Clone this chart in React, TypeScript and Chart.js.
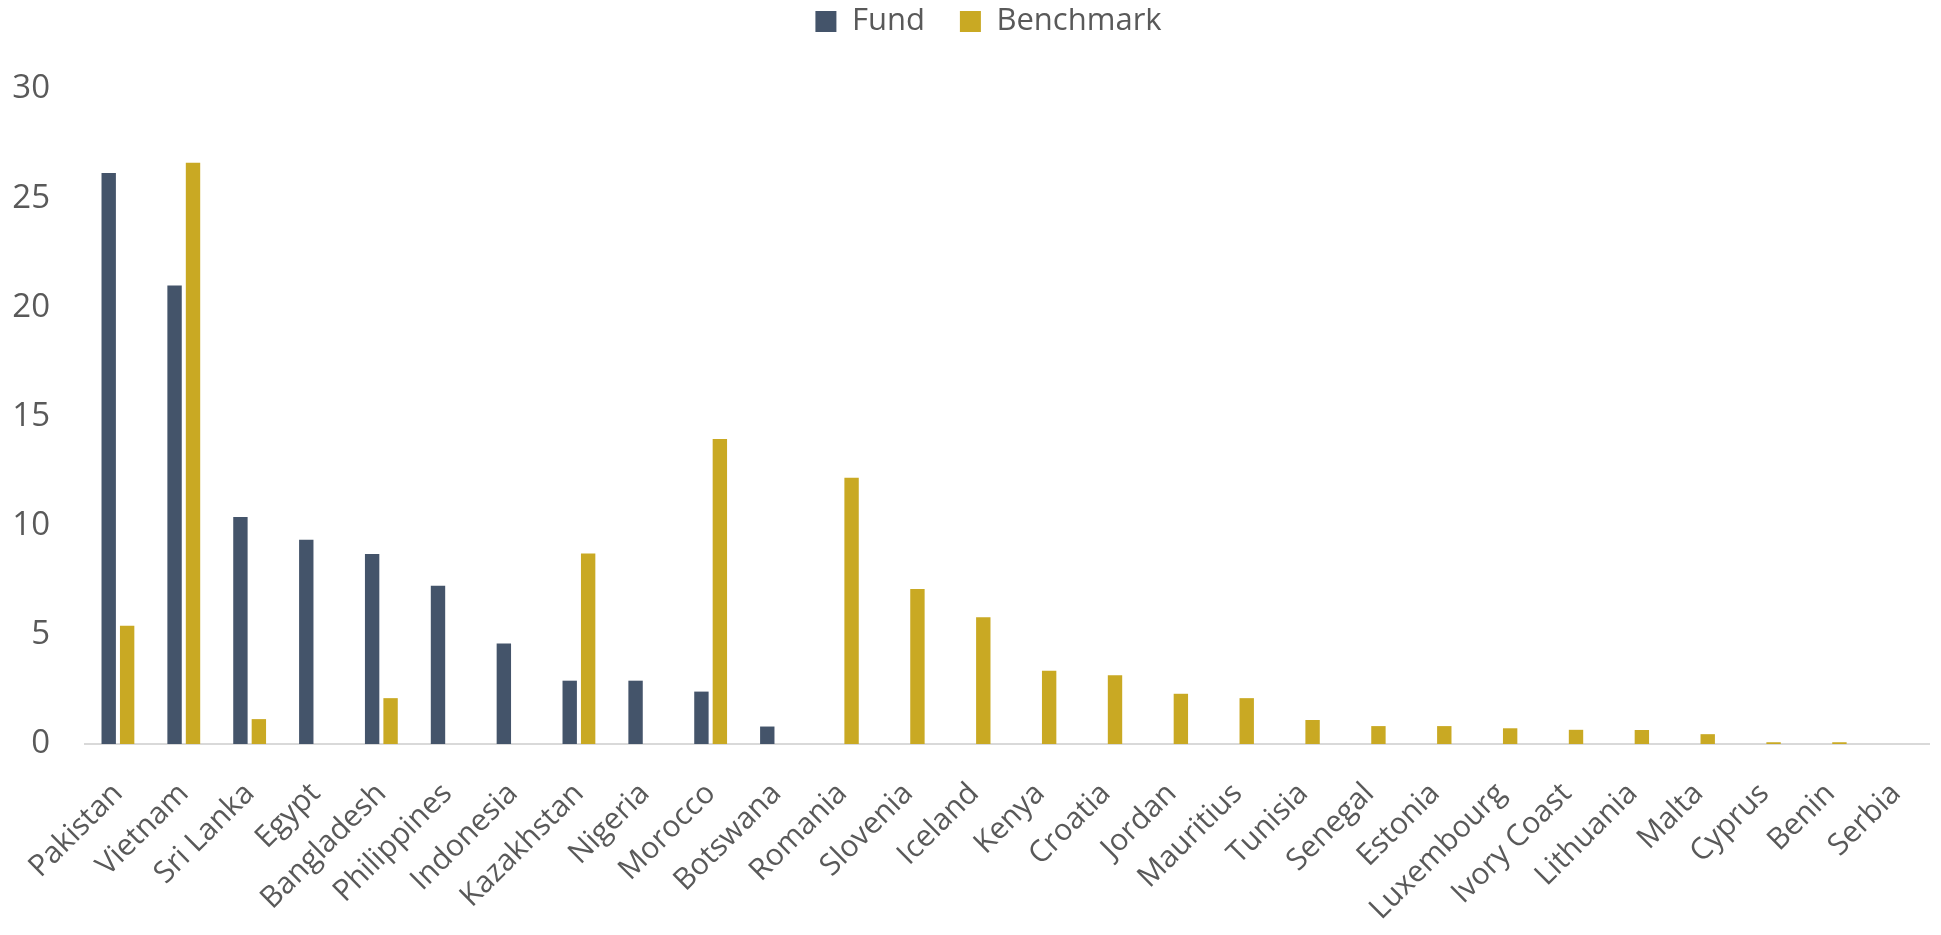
import React, { useEffect, useRef } from "react";
import { Chart, registerables } from "chart.js";

Chart.register(...registerables);

const categories = [
  "Pakistan", "Vietnam", "Sri Lanka", "Egypt", "Bangladesh", "Philippines", "Indonesia",
  "Kazakhstan", "Nigeria", "Morocco", "Botswana", "Romania", "Slovenia", "Iceland", "Kenya",
  "Croatia", "Jordan", "Mauritius", "Tunisia", "Senegal", "Estonia", "Luxembourg",
  "Ivory Coast", "Lithuania", "Malta", "Cyprus", "Benin", "Serbia",
];

const fundValues = [
  26.15, 21.0, 10.4, 9.35, 8.7, 7.25, 4.6, 2.9, 2.9, 2.4, 0.8,
  null, null, null, null, null, null, null, null, null, null, null, null, null, null, null, null, null,
];

const benchmarkValues = [
  5.42, 26.62, 1.14, null, 2.1, null, null, 8.73, null, 13.97, null,
  12.2, 7.1, 5.8, 3.35, 3.15, 2.3, 2.1, 1.1, 0.82, 0.82, 0.72, 0.65, 0.64, 0.45, 0.08, 0.08, null,
];

const yTicks = [0, 5, 10, 15, 20, 25, 30];

const FONT = "'Open Sans', sans-serif";
const TEXT = "#595959";

const legendSpacer = {
  id: "legendSpacer",
  beforeInit(chart: any) {
    const orig = chart.legend.fit;
    chart.legend.fit = function () {
      orig.bind(chart.legend)();
      this.height += 42;
    };
  },
  afterLayout(chart: any) {
    if (chart.legend) {
      chart.legend.left += 18;
      chart.legend.right += 18;
    }
  },
};

export default function App() {
  const ref = useRef<HTMLCanvasElement | null>(null);
  useEffect(() => {
    if (!ref.current) return;
    const chart = new Chart(ref.current, {
      type: "bar",
      data: {
        labels: categories,
        datasets: [
          {
            label: "Fund",
            data: fundValues,
            backgroundColor: "#44546A",
            categoryPercentage: 0.56,
            barPercentage: 0.78,
          },
          {
            label: "Benchmark",
            data: benchmarkValues,
            backgroundColor: "#C9A923",
            categoryPercentage: 0.56,
            barPercentage: 0.78,
          },
        ],
      },
      plugins: [legendSpacer],
      options: {
        responsive: false,
        animation: false,
        layout: { padding: { top: -37, left: 4, right: 4, bottom: 0 } },
        plugins: {
          legend: {
            position: "top",
            labels: {
              boxWidth: 21,
              boxHeight: 21,
              padding: 35,
              color: TEXT,
              font: { family: FONT, size: 31 },
            },
          },
          tooltip: { enabled: false },
        },
        scales: {
          x: {
            grid: { display: false, drawTicks: false },
            border: { display: true, color: "#D9D9D9", width: 2 },
            afterFit: (axis: any) => {
              axis.height = 183;
              axis.paddingLeft = 0;
              axis.paddingRight = 0;
            },
            ticks: {
              color: TEXT,
              font: { family: FONT, size: 30 },
              minRotation: 45,
              maxRotation: 45,
              padding: 32,
              autoSkip: false,
            },
          },
          y: {
            min: 0,
            max: 30,
            afterBuildTicks: (axis: any) => {
              axis.ticks = yTicks.map((v) => ({ value: v }));
            },
            afterFit: (axis: any) => {
              axis.width = 73;
            },
            grid: { display: false, drawTicks: false },
            border: { display: false },
            ticks: {
              color: TEXT,
              font: { family: FONT, size: 33 },
              padding: 35,
            },
          },
        },
      },
    });
    return () => chart.destroy();
  }, []);
  return <canvas ref={ref} width={1925} height={919} style={{ display: "block" }} />;
}
